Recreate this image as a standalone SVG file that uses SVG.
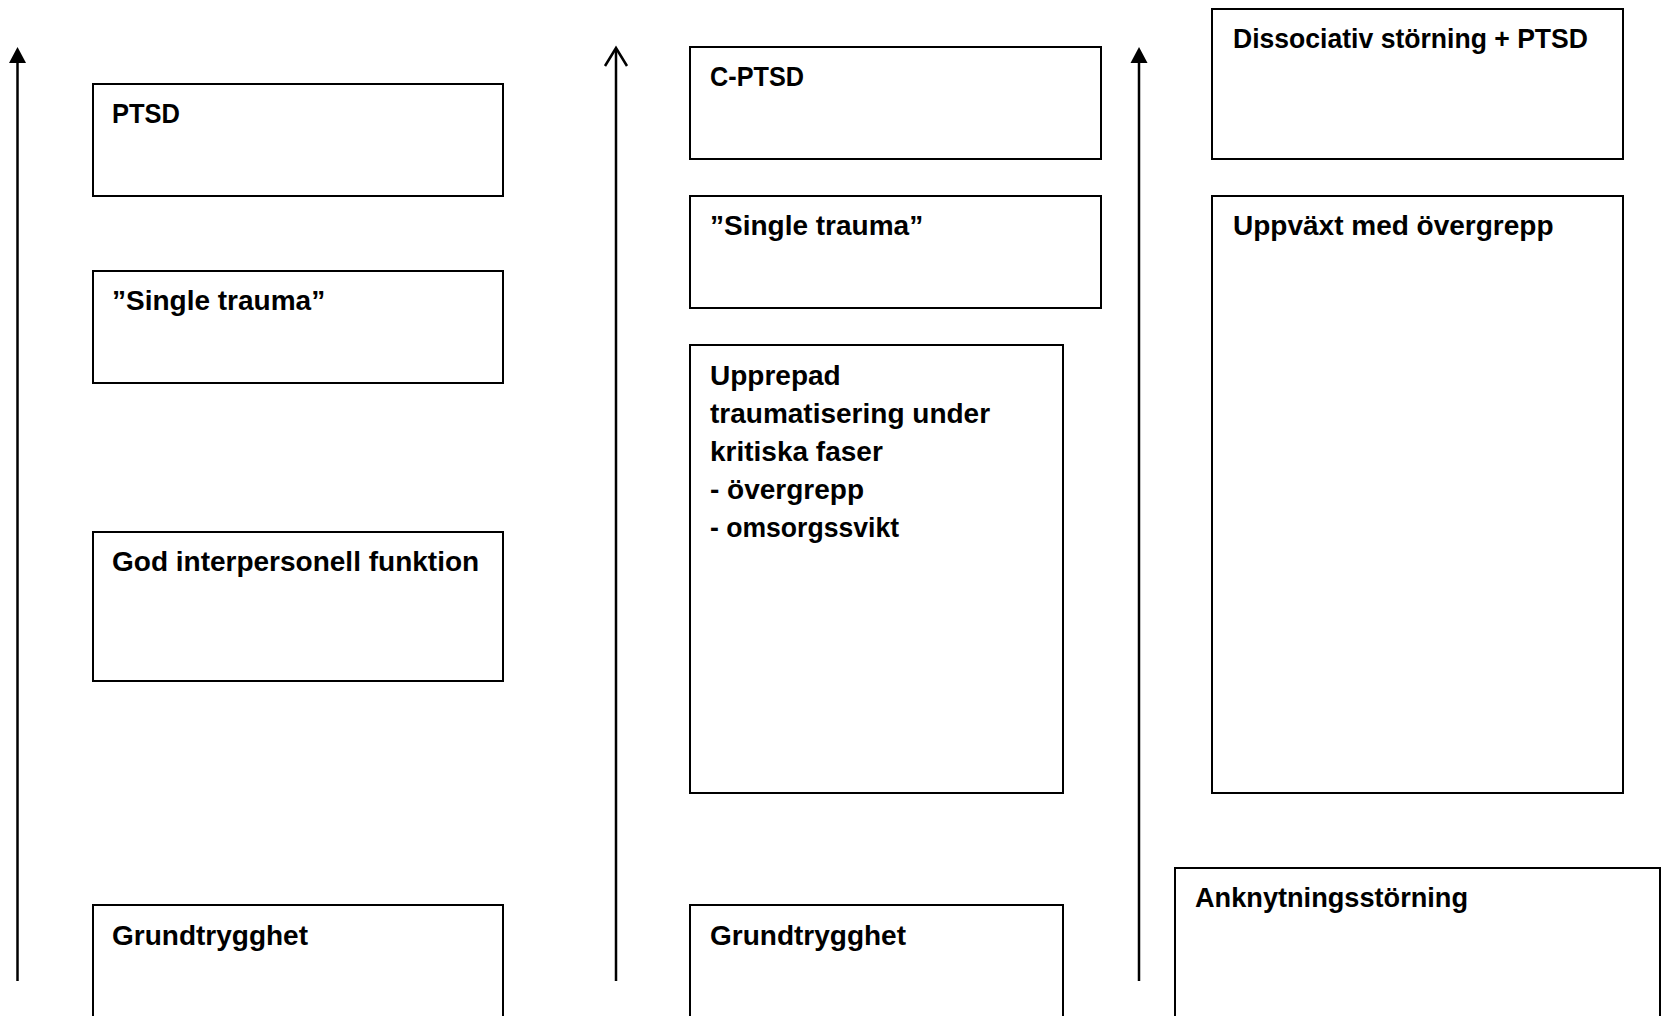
<svg xmlns="http://www.w3.org/2000/svg" width="1672" height="1016" viewBox="0 0 1672 1016">
<style>
.box{fill:#fff;stroke:#000;stroke-width:2}
.t{font-family:"Liberation Sans",Arial,sans-serif;font-weight:bold;font-size:28px;fill:#000}
.ax{stroke:#000;stroke-width:2.5;fill:none}
</style>
<rect width="1672" height="1016" fill="#fff"/>
<g id="connectors">
<line class="ax" x1="17.5" y1="981" x2="17.5" y2="60"/>
<path d="M17.5 47 L26 63 L9 63 Z" fill="#000"/>
<line class="ax" x1="616" y1="981" x2="616" y2="49"/>
<path class="ax" d="M605 66 L616 48 L627 66"/>
<line class="ax" x1="1139" y1="981" x2="1139" y2="60"/>
<path d="M1139 47 L1147.5 63 L1130.5 63 Z" fill="#000"/>
</g>
<g id="n-ptsd"><rect class="box" x="93" y="84" width="410" height="112"/><text class="t" x="112" y="123" textLength="68" lengthAdjust="spacingAndGlyphs">PTSD</text></g>
<g id="n-single1"><rect class="box" x="93" y="271" width="410" height="112"/><text class="t" x="112" y="310">”Single trauma”</text></g>
<g id="n-god"><rect class="box" x="93" y="532" width="410" height="149"/><text class="t" x="112" y="571">God interpersonell funktion</text></g>
<g id="n-grund1"><rect class="box" x="93" y="905" width="410" height="130"/><text class="t" x="112" y="945">Grundtrygghet</text></g>
<g id="n-cptsd"><rect class="box" x="690" y="47" width="411" height="112"/><text class="t" x="710" y="86" textLength="94" lengthAdjust="spacingAndGlyphs">C-PTSD</text></g>
<g id="n-single2"><rect class="box" x="690" y="196" width="411" height="112"/><text class="t" x="710" y="235">”Single trauma”</text></g>
<g id="n-upprepad"><rect class="box" x="690" y="345" width="373" height="448"/>
<text class="t"><tspan x="710" y="385">Upprepad</tspan><tspan x="710" y="423">traumatisering under</tspan><tspan x="710" y="461">kritiska faser</tspan><tspan x="710" y="499">- övergrepp</tspan><tspan x="710" y="537" textLength="189" lengthAdjust="spacingAndGlyphs">- omsorgssvikt</tspan></text></g>
<g id="n-grund2"><rect class="box" x="690" y="905" width="373" height="130"/><text class="t" x="710" y="945">Grundtrygghet</text></g>
<g id="n-diss"><rect class="box" x="1212" y="9" width="411" height="150"/><text class="t" x="1233" y="48" textLength="355" lengthAdjust="spacingAndGlyphs">Dissociativ störning + PTSD</text></g>
<g id="n-uppvaxt"><rect class="box" x="1212" y="196" width="411" height="597"/><text class="t" x="1233" y="235">Uppväxt med övergrepp</text></g>
<g id="n-ankn"><rect class="box" x="1175" y="868" width="485" height="170"/><text class="t" x="1195" y="907" textLength="273" lengthAdjust="spacingAndGlyphs">Anknytningsstörning</text></g>
</svg>
